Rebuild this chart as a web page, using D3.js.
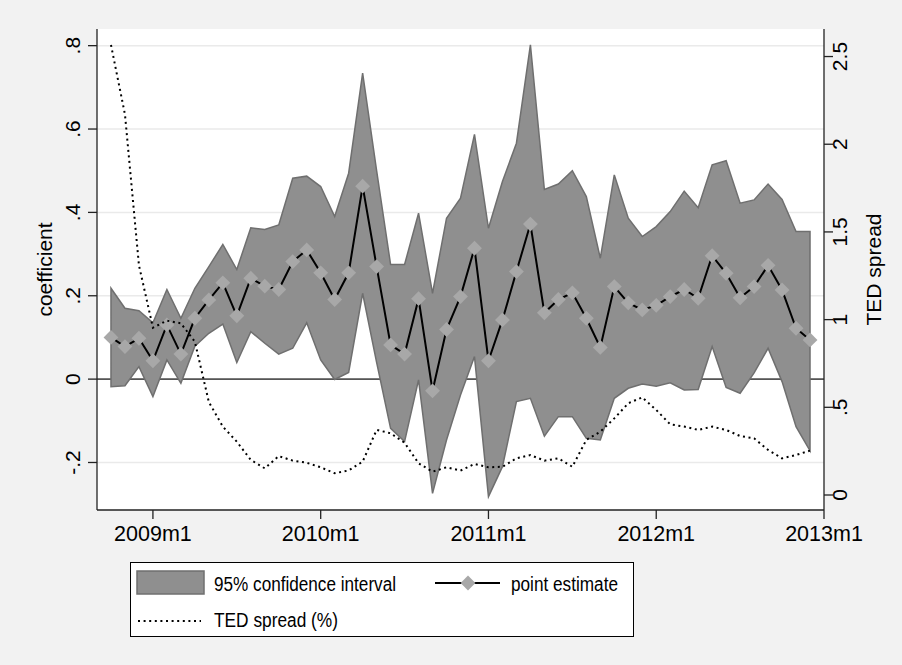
<!DOCTYPE html>
<html>
<head>
<meta charset="utf-8">
<script src="https://cdn.jsdelivr.net/npm/d3@7"></script>
<style>
  html, body { margin: 0; padding: 0; background: #f2f2f2; }
  svg { display: block; }
  text { font-family: "Liberation Sans", Arial, Helvetica, sans-serif; fill: #000; }
</style>
</head>
<body>
<svg id="chart" width="902" height="665"></svg>
<script>
// ---- data (monthly, 2008m10 .. 2012m12) ----
const startMonth = "2008m10";
const pointEstimate = [0.100,0.078,0.098,0.044,0.130,0.060,0.146,0.190,0.231,0.152,0.242,0.223,0.215,0.282,0.310,0.255,0.191,0.255,0.463,0.270,0.082,0.060,0.193,-0.028,0.119,0.198,0.314,0.044,0.142,0.258,0.372,0.159,0.191,0.207,0.146,0.076,0.222,0.183,0.166,0.177,0.198,0.215,0.194,0.296,0.254,0.195,0.222,0.273,0.214,0.122,0.094];
const ciUpper = [0.218,0.170,0.164,0.135,0.215,0.146,0.218,0.270,0.323,0.263,0.363,0.359,0.370,0.482,0.487,0.462,0.390,0.494,0.734,0.500,0.275,0.275,0.398,0.206,0.386,0.434,0.587,0.362,0.474,0.566,0.802,0.455,0.468,0.500,0.438,0.290,0.490,0.386,0.342,0.366,0.402,0.451,0.411,0.514,0.524,0.422,0.430,0.468,0.431,0.354,0.354];
const ciLower = [-0.018,-0.016,0.030,-0.042,0.046,-0.010,0.079,0.110,0.132,0.040,0.114,0.086,0.060,0.074,0.135,0.046,-0.001,0.016,0.206,0.040,-0.118,-0.150,-0.002,-0.274,-0.146,-0.038,0.054,-0.282,-0.210,-0.054,-0.046,-0.137,-0.090,-0.090,-0.142,-0.146,-0.046,-0.022,-0.012,-0.017,-0.009,-0.026,-0.025,0.078,-0.020,-0.034,0.015,0.074,-0.006,-0.114,-0.172];
const tedSpread = [2.566,2.17,1.31,0.954,0.994,0.979,0.874,0.53,0.390,0.304,0.200,0.152,0.222,0.196,0.184,0.158,0.124,0.140,0.190,0.371,0.352,0.298,0.181,0.133,0.158,0.139,0.177,0.158,0.161,0.209,0.228,0.196,0.209,0.161,0.314,0.361,0.437,0.523,0.557,0.485,0.403,0.390,0.371,0.390,0.371,0.336,0.323,0.257,0.209,0.228,0.253];
const xTickLabels = ["2009m1","2010m1","2011m1","2012m1","2013m1"];
const xDomainLabels = ["2008m9","2013m1"];
const yLeftTicks = [-0.2, 0, 0.2, 0.4, 0.6, 0.8];
const yLeftDomain = [-0.314, 0.84];
const yRightTicks = [0, 0.5, 1, 1.5, 2, 2.5];
const yRightDomain = [-0.0855, 2.657];
const legendLabels = ["95% confidence interval", "point estimate", "TED spread (%)"];
const yLeftTitle = "coefficient";
const yRightTitle = "TED spread";

// ---- helpers ----
const mIdx = s => { const [y, m] = s.split("m").map(Number); return y * 12 + (m - 1); };
const fmtNum = v => {
  if (v === 0) return "0";
  let s = String(Math.round(v * 100) / 100);
  return s.replace(/^0\./, ".").replace(/^-0\./, "-.");
};
const start = mIdx(startMonth);
const rows = pointEstimate.map((p, i) => ({
  m: start + i, pe: p, lo: ciLower[i], hi: ciUpper[i], ted: tedSpread[i]
}));

// ---- layout ----
const L = 97, R = 824, T = 29, B = 510;
const svg = d3.select("#chart");
const x = d3.scaleLinear().domain(xDomainLabels.map(mIdx)).range([L, R]);
const yL = d3.scaleLinear().domain(yLeftDomain).range([B, T]);
const yR = d3.scaleLinear().domain(yRightDomain).range([B, T]);

svg.append("rect").attr("width", 902).attr("height", 665).attr("fill", "#f2f2f2");
svg.append("rect").attr("x", L).attr("y", T).attr("width", R - L).attr("height", B - T).attr("fill", "#fff");

// gridlines
svg.append("g").selectAll("line").data(yLeftTicks).join("line")
  .attr("x1", L).attr("x2", R)
  .attr("y1", d => yL(d)).attr("y2", d => yL(d))
  .attr("stroke", "#eaeaea").attr("stroke-width", 1.5);

// zero line
svg.append("line").attr("x1", L).attr("x2", R).attr("y1", yL(0)).attr("y2", yL(0))
  .attr("stroke", "#555").attr("stroke-width", 1.6);

// CI area
const area = d3.area().x(d => x(d.m)).y0(d => yL(d.lo)).y1(d => yL(d.hi));
svg.append("path").datum(rows).attr("d", area)
  .attr("fill", "#8f8f8f").attr("stroke", "#6f6f6f").attr("stroke-width", 1.5)
  .attr("stroke-linejoin", "miter");

// point estimate line
const peLine = d3.line().x(d => x(d.m)).y(d => yL(d.pe));
svg.append("path").datum(rows).attr("d", peLine)
  .attr("fill", "none").attr("stroke", "#000").attr("stroke-width", 2);

// diamonds
const dia = d3.symbol().type(d3.symbolSquare).size(110);
svg.append("g").selectAll("path").data(rows).join("path")
  .attr("d", dia())
  .attr("transform", d => `translate(${x(d.m)},${yL(d.pe)}) rotate(45)`)
  .attr("fill", "#a8a8a8");

// TED spread dotted
const tedLine = d3.line().x(d => x(d.m)).y(d => yR(d.ted));
svg.append("path").datum(rows).attr("d", tedLine)
  .attr("fill", "none").attr("stroke", "#000").attr("stroke-width", 2)
  .attr("stroke-dasharray", "2,3.6");

// axes
const axisColor = "#222";
const fs = 21;
// left
svg.append("line").attr("x1", L).attr("x2", L).attr("y1", T).attr("y2", B).attr("stroke", axisColor).attr("stroke-width", 1.3);
const gl = svg.append("g");
gl.selectAll("line").data(yLeftTicks).join("line")
  .attr("x1", L - 9).attr("x2", L).attr("y1", d => yL(d)).attr("y2", d => yL(d))
  .attr("stroke", axisColor).attr("stroke-width", 1.3);
gl.selectAll("text").data(yLeftTicks).join("text")
  .attr("transform", d => `translate(80,${yL(d)}) rotate(-90)`)
  .attr("text-anchor", "middle").attr("font-size", fs)
  .text(fmtNum);
svg.append("text").attr("transform", `translate(52,${(T + B) / 2}) rotate(-90)`)
  .attr("text-anchor", "middle").attr("font-size", fs).text(yLeftTitle);

// right
svg.append("line").attr("x1", R).attr("x2", R).attr("y1", T).attr("y2", B).attr("stroke", axisColor).attr("stroke-width", 1.3);
const gr = svg.append("g");
gr.selectAll("line").data(yRightTicks).join("line")
  .attr("x1", R).attr("x2", R + 9).attr("y1", d => yR(d)).attr("y2", d => yR(d))
  .attr("stroke", axisColor).attr("stroke-width", 1.3);
gr.selectAll("text").data(yRightTicks).join("text")
  .attr("transform", d => `translate(847,${yR(d)}) rotate(-90)`)
  .attr("text-anchor", "middle").attr("font-size", fs)
  .text(fmtNum);
svg.append("text").attr("transform", `translate(881,${(T + B) / 2}) rotate(-90)`)
  .attr("text-anchor", "middle").attr("font-size", fs).text(yRightTitle);

// bottom
svg.append("line").attr("x1", L).attr("x2", R).attr("y1", B).attr("y2", B).attr("stroke", axisColor).attr("stroke-width", 1.3);
const gb = svg.append("g");
gb.selectAll("line").data(xTickLabels).join("line")
  .attr("x1", d => x(mIdx(d))).attr("x2", d => x(mIdx(d)))
  .attr("y1", B).attr("y2", B + 9)
  .attr("stroke", axisColor).attr("stroke-width", 1.3);
gb.selectAll("text").data(xTickLabels).join("text")
  .attr("x", d => x(mIdx(d))).attr("y", 541)
  .attr("text-anchor", "middle").attr("font-size", 21.5)
  .text(d => d);

// legend
const lg = svg.append("g");
lg.append("rect").attr("x", 130.5).attr("y", 562.5).attr("width", 503).attr("height", 74)
  .attr("fill", "#fff").attr("stroke", "#000").attr("stroke-width", 1);
lg.append("rect").attr("x", 137).attr("y", 571).attr("width", 67).attr("height", 23)
  .attr("fill", "#8f8f8f").attr("stroke", "#6f6f6f").attr("stroke-width", 1.5);
lg.append("text").attr("x", 214).attr("y", 591).attr("font-size", 20)
  .attr("textLength", 182).attr("lengthAdjust", "spacingAndGlyphs").text(legendLabels[0]);
lg.append("line").attr("x1", 435).attr("x2", 500).attr("y1", 583).attr("y2", 583)
  .attr("stroke", "#000").attr("stroke-width", 2);
lg.append("path").attr("d", dia()).attr("transform", "translate(468,583) rotate(45)").attr("fill", "#a8a8a8");
lg.append("text").attr("x", 511).attr("y", 591).attr("font-size", 20)
  .attr("textLength", 107).attr("lengthAdjust", "spacingAndGlyphs").text(legendLabels[1]);
lg.append("line").attr("x1", 138).attr("x2", 201).attr("y1", 621).attr("y2", 621)
  .attr("stroke", "#000").attr("stroke-width", 2).attr("stroke-dasharray", "2,3.6");
lg.append("text").attr("x", 214).attr("y", 627).attr("font-size", 20)
  .attr("textLength", 124).attr("lengthAdjust", "spacingAndGlyphs").text(legendLabels[2]);
</script>
</body>
</html>
